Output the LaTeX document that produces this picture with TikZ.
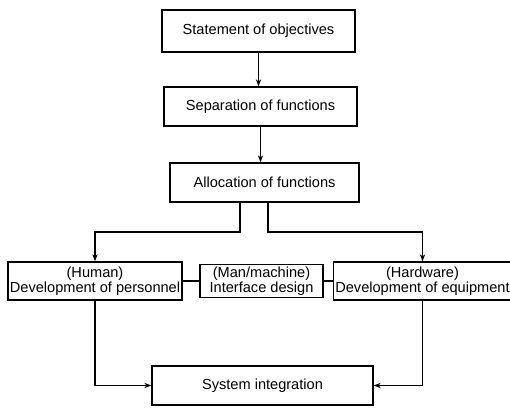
\documentclass[tikz,border=0pt]{standalone}
\usepackage{fontspec}
\setmainfont{Liberation Sans}
\usetikzlibrary{arrows.meta}

\begin{document}
\begin{tikzpicture}[x=0.02cm, y=-0.02cm,
                    box/.style={draw, thick, align=center, inner sep=1pt,
                                font=\fontsize{8.3}{8.8}\selectfont},
                    flow/.style={thick, -{Stealth[length=4pt, width=3pt]}}]
                    \useasboundingbox (0,0) rectangle (510,408);

                    % main chain
                    \node[box, minimum width=3.86cm, minimum height=0.84cm] (objectives) at (258.5, 31) {Statement of objectives};
                    \node[box, minimum width=3.86cm, minimum height=0.78cm] (separation) at (260.5, 106.5) {Separation of functions};
                    \node[box, minimum width=3.78cm, minimum height=0.78cm] (allocation) at (264.5, 182.5) {Allocation of functions};

                    % three branches
                    \node[box, minimum width=3.48cm, minimum height=0.76cm] (human) at (95, 281) {(Human)\\Development of personnel};
                    \node[box, minimum width=2.46cm, minimum height=0.64cm] (interface) at (261.5, 281) {(Man/machine)\\Interface design};
                    \node[box, minimum width=3.30cm, minimum height=0.76cm] (hardware) at (422.5, 281) {(Hardware)\\Development of equipment};

                    \node[box, minimum width=4.42cm, minimum height=0.78cm] (integration) at (262.5, 385.5) {System integration};

                    \coordinate (splitL) at (240, 232);
                    \coordinate (splitR) at (268, 232);

                    \draw[flow] (objectives.south) -- (objectives.south |- separation.north);
                    \draw[flow] (separation.south) -- (separation.south |- allocation.north);
                    \draw[flow] (splitL |- allocation.south) -- (splitL) -| (human.north);
                    \draw[flow] (splitR |- allocation.south) -- (splitR) -| (hardware.north);
                    \draw[thick] (human.east) -- (interface.west);
                    \draw[thick] (interface.east) -- (hardware.west);
                    \draw[flow] (human.south) |- (integration.west);
                    \draw[flow] (hardware.south) |- (integration.east);
                \end{tikzpicture}
\end{document}
